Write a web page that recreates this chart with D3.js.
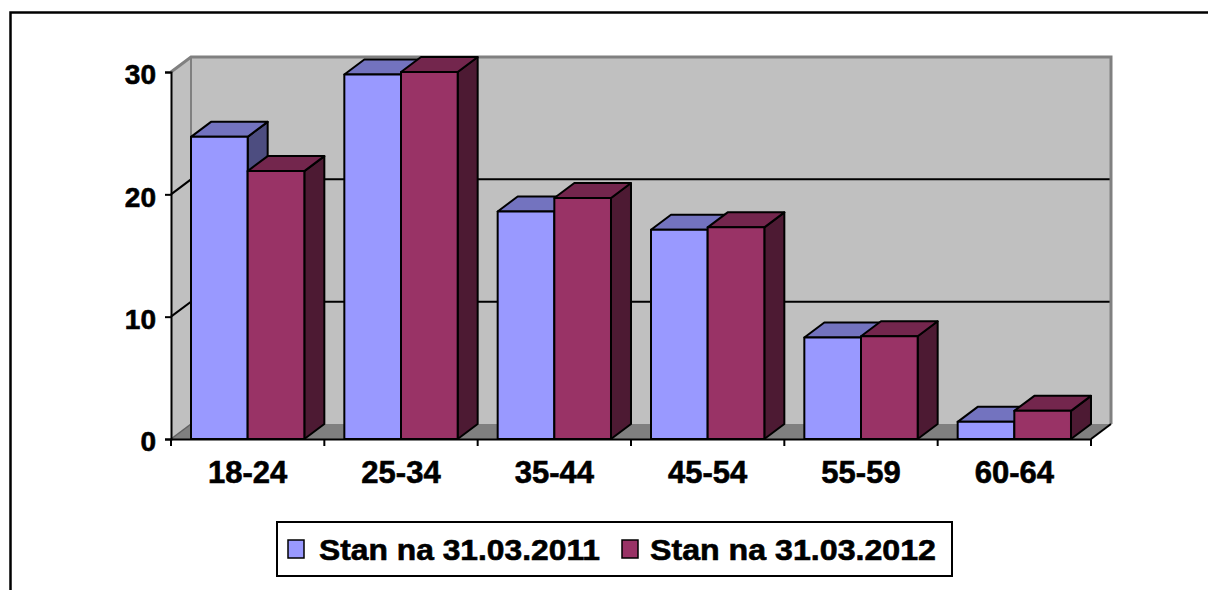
<!DOCTYPE html>
<html>
<head>
<meta charset="utf-8">
<script src="https://cdn.jsdelivr.net/npm/d3@7"></script>
<style>
  html, body { margin: 0; padding: 0; background: #fff; }
  svg { display: block; }
  text { font-family: "Liberation Sans", Arial, sans-serif; font-weight: bold; fill: #000; }
</style>
</head>
<body>
<svg id="chart" width="1208" height="590"></svg>
<script>
const categories = ["18-24", "25-34", "35-44", "45-54", "55-59", "60-64"];
const seriesNames = ["Stan na 31.03.2011", "Stan na 31.03.2012"];
const values2011 = [24.7, 29.8, 18.6, 17.1, 8.3, 1.4];
const values2012 = [21.9, 30.0, 19.7, 17.3, 8.4, 2.3];
const yTicks = [0, 10, 20, 30];

const colors = [
  { front: "#9999FF", top: "#7373BF", side: "#4D4D80" },
  { front: "#993366", top: "#73264D", side: "#4D1A33" }
];

const svg = d3.select("#chart");
const DX = 20, DY = -15;

const x = d3.scaleBand().domain(categories).range([171, 1091]).padding(0);
const xs = d3.scaleBand().domain(seriesNames).range([0, x.bandwidth()]).paddingInner(0).paddingOuter(0.353);
const y = d3.scaleLinear().domain([0, 30]).range([439, 72]);

const x0 = x.range()[0], x1 = x.range()[1];
const yb = y(0), yt = y(30);

// outer border (cropped at right and bottom)
svg.append("path").attr("d", `M10.5,600 L10.5,12.5 L1220,12.5`).attr("fill", "none").attr("stroke", "#000").attr("stroke-width", 2.5);

const pts = a => a.map(p => p.join(",")).join(" ");

// back wall
svg.append("rect").attr("x", x0 + DX).attr("y", yt + DY).attr("width", x1 - x0).attr("height", yb - yt).attr("fill", "#C0C0C0");
// left wall
svg.append("polygon").attr("points", pts([[x0, yb], [x0 + DX, yb + DY], [x0 + DX, yt + DY], [x0, yt]])).attr("fill", "#C0C0C0");
// floor
svg.append("polygon").attr("points", pts([[x0, yb], [x1, yb], [x1 + DX, yb + DY], [x0 + DX, yb + DY]])).attr("fill", "#808080");

// gridlines
yTicks.filter(t => t > 0 && t < 30).forEach(t => {
  svg.append("polyline").attr("points", pts([[x0, y(t)], [x0 + DX, y(t) + DY], [x1 + DX, y(t) + DY]]))
    .attr("fill", "none").attr("stroke", "#000").attr("stroke-width", 2);
});
// wall edges (gray)
svg.append("polyline").attr("points", pts([[x0, yt], [x0 + DX, yt + DY], [x1 + DX, yt + DY], [x1 + DX, yb + DY]]))
  .attr("fill", "none").attr("stroke", "#808080").attr("stroke-width", 3);
svg.append("line").attr("x1", x0 + DX).attr("y1", yt + DY).attr("x2", x0 + DX).attr("y2", yb + DY)
  .attr("stroke", "#808080").attr("stroke-width", 2);
svg.append("line").attr("x1", x0).attr("y1", yb).attr("x2", x0 + DX).attr("y2", yb + DY)
  .attr("stroke", "#606060").attr("stroke-width", 1.5);
// floor right edge
svg.append("line").attr("x1", x1).attr("y1", yb).attr("x2", x1 + DX).attr("y2", yb + DY)
  .attr("stroke", "#000").attr("stroke-width", 2);

// bars
const allValues = [values2011, values2012];
const barG = svg.append("g");
categories.forEach((c, i) => {
  seriesNames.forEach((s, j) => {
    const v = allValues[j][i];
    const xl = x(c) + xs(s), xr = xl + xs.bandwidth();
    const ytop = y(v), ybot = y(0);
    const col = colors[j];
    const g = barG.append("g").attr("stroke", "#000").attr("stroke-width", 2).attr("stroke-linejoin", "round");
    g.append("polygon").attr("points", pts([[xr, ytop], [xr + DX, ytop + DY], [xr + DX, ybot + DY], [xr, ybot]])).attr("fill", col.side);
    g.append("polygon").attr("points", pts([[xl, ytop], [xr, ytop], [xr + DX, ytop + DY], [xl + DX, ytop + DY]])).attr("fill", col.top);
    g.append("rect").attr("x", xl).attr("y", ytop).attr("width", xr - xl).attr("height", ybot - ytop).attr("fill", col.front);
  });
});

// y axis
const yAxisG = svg.append("g").attr("transform", `translate(${x0},0)`)
  .call(d3.axisLeft(y).tickValues(yTicks).tickSize(6).tickPadding(10).tickFormat(d3.format("d")));
yAxisG.select(".domain").attr("stroke", "#000").attr("stroke-width", 2);
yAxisG.selectAll(".tick line").attr("stroke", "#000").attr("stroke-width", 2);
yAxisG.selectAll(".tick text").attr("font-size", 28).attr("font-family", "Liberation Sans, Arial, sans-serif")
  .attr("font-weight", "bold").attr("fill", "#000").attr("stroke", "#000").attr("stroke-width", 0.6)
  .attr("x", -15).attr("dy", "0.42em");

// x axis
const xAxisG = svg.append("g").attr("transform", `translate(0,${yb})`)
  .call(d3.axisBottom(x).tickSize(0).tickPadding(0));
xAxisG.select(".domain").attr("stroke", "#000").attr("stroke-width", 2);
xAxisG.selectAll(".tick text").attr("font-size", 31).attr("font-family", "Liberation Sans, Arial, sans-serif")
  .attr("font-weight", "bold").attr("fill", "#000").attr("stroke", "#000").attr("stroke-width", 0.6)
  .attr("y", 44).attr("dy", 0);
// category boundary ticks
const bounds = categories.map(c => x(c)).concat([x1]);
svg.append("g").selectAll("line").data(bounds).join("line")
  .attr("x1", d => d).attr("x2", d => d).attr("y1", yb).attr("y2", yb + 7)
  .attr("stroke", "#000").attr("stroke-width", 2);

// legend
const leg = svg.append("g");
leg.append("rect").attr("x", 277).attr("y", 522).attr("width", 675).attr("height", 54)
  .attr("fill", "#fff").attr("stroke", "#000").attr("stroke-width", 2);
const legItems = [{ sx: 288, tx: 319, tl: 281 }, { sx: 622, tx: 650, tl: 286 }];
seriesNames.forEach((s, j) => {
  leg.append("rect").attr("x", legItems[j].sx).attr("y", 540).attr("width", 16).attr("height", 18)
    .attr("fill", colors[j].front).attr("stroke", "#000").attr("stroke-width", 1.5);
  leg.append("text").attr("x", legItems[j].tx).attr("y", 560).attr("font-size", 29)
    .attr("stroke", "#000").attr("stroke-width", 0.6)
    .attr("textLength", legItems[j].tl).attr("lengthAdjust", "spacingAndGlyphs").text(s);
});
</script>
</body>
</html>
